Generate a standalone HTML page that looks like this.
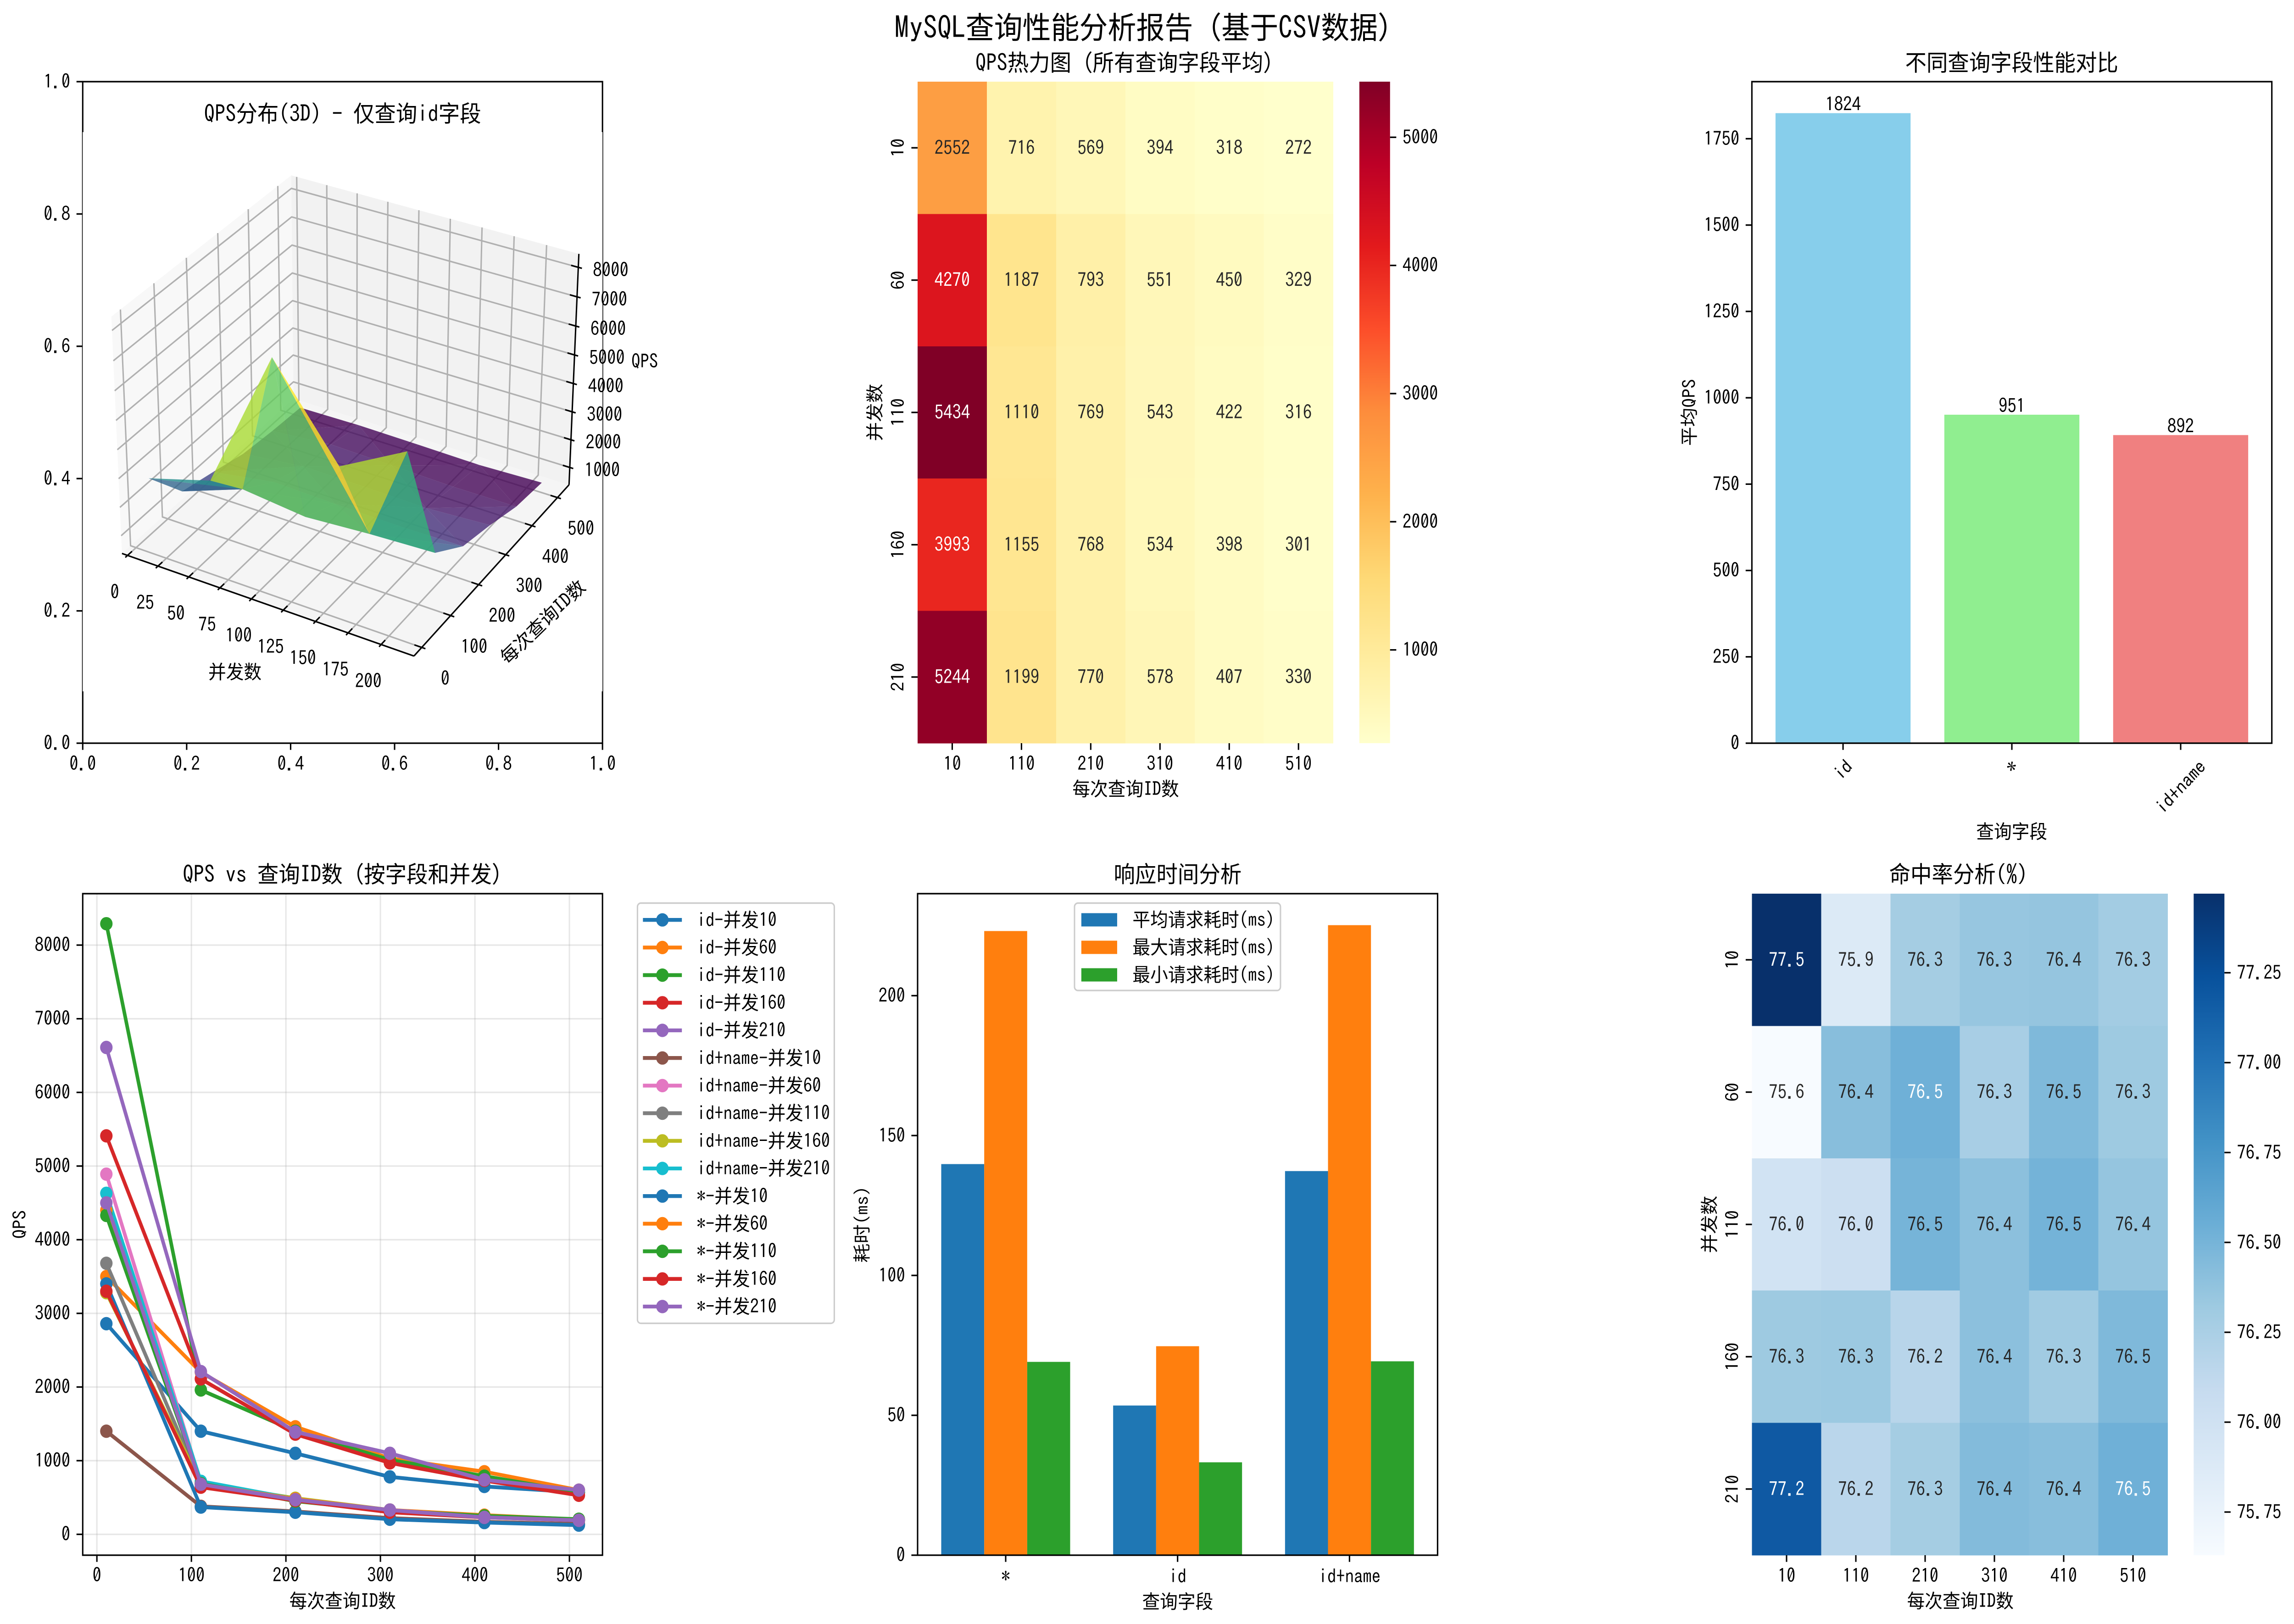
<!DOCTYPE html>
<html lang="zh">
<head>
<meta charset="utf-8">
<title>MySQL查询性能分析报告</title>
<style>
html,body{margin:0;padding:0;background:#fff;width:100%;height:100%;overflow:hidden;}
svg{display:block;width:100vw;height:100vh;}
text{font-family:"IPAGothic","Liberation Mono",monospace;fill:#000;}
.c{font-family:"WenQuanYi Zen Hei","Noto Sans CJK SC",sans-serif;}
.s10{font-size:41.67px;}
.s12{font-size:50px;}
.s16{font-size:66.67px;}
</style>
</head>
<body>
<svg id="figure" xmlns="http://www.w3.org/2000/svg" width="5380" height="3540" viewBox="0 0 5380 3540" preserveAspectRatio="none">
<rect x="0" y="0" width="5380" height="3540" fill="#ffffff"/>
<text class="s16" x="2698" y="84" text-anchor="middle">MySQL<tspan class="c">查询性能分析报告（基于</tspan>CSV<tspan class="c">数据）</tspan></text>

<g>
  <rect x="194" y="178" width="1219" height="1442" fill="none" stroke="#000" stroke-width="3.33"/>
  <g id="ax1-ticks"></g>
  <rect x="194" y="288" width="1219" height="1219" fill="#ffffff"/>
  <g id="ax1-3d"></g>
  <text class="s12" x="803.5" y="265.5" text-anchor="middle">QPS<tspan class="c">分布</tspan>(3D) - <tspan class="c">仅查询</tspan>id<tspan class="c">字段</tspan></text>
  <text class="s10" x="551" y="1479.6" text-anchor="middle"><tspan class="c">并发数</tspan></text>
  <text class="s10" x="1273" y="1370.6" text-anchor="middle" transform="rotate(-42 1273 1356)"><tspan class="c">每次查询</tspan>ID<tspan class="c">数</tspan></text>
  <text class="s10" x="1512" y="802.6" text-anchor="middle">QPS</text>
</g>

<g>
  <g id="ax2-marks"></g>
  <g id="ax2-cbar"></g>
  <text class="s12" x="2650" y="154.5" text-anchor="middle">QPS<tspan class="c">热力图（所有查询字段平均）</tspan></text>
  <text class="s10" x="2640" y="1734.6" text-anchor="middle"><tspan class="c">每次查询</tspan>ID<tspan class="c">数</tspan></text>
  <text class="s10" x="2052" y="913.6" text-anchor="middle" transform="rotate(-90 2052 899)"><tspan class="c">并发数</tspan></text>
</g>

<g>
  <g id="ax3-marks"></g>
  <rect x="4108.6" y="178" width="1219.4" height="1442" fill="none" stroke="#000" stroke-width="3.33"/>
  <text class="s12" x="4718" y="154.5" text-anchor="middle"><tspan class="c">不同查询字段性能对比</tspan></text>
  <text class="s10" x="4718" y="1827.6" text-anchor="middle"><tspan class="c">查询字段</tspan></text>
  <text class="s10" x="3962" y="913.6" text-anchor="middle" transform="rotate(-90 3962 899)"><tspan class="c">平均</tspan>QPS</text>
</g>

<g>
  <g id="ax4-marks"></g>
  <rect x="194" y="1948" width="1219" height="1442" fill="none" stroke="#000" stroke-width="3.33"/>
  <g id="ax4-legend">
    <rect x="1495" y="1968.6" width="461.6" height="916" rx="8" ry="8" fill="#fff" fill-opacity="0.8" stroke="#cccccc" stroke-width="3.33"/>
  </g>
  <text class="s12" x="816" y="1923.5" text-anchor="middle">QPS vs <tspan class="c">查询</tspan>ID<tspan class="c">数（按字段和并发）</tspan></text>
  <text class="s10" x="803.5" y="3504.6" text-anchor="middle"><tspan class="c">每次查询</tspan>ID<tspan class="c">数</tspan></text>
  <text class="s10" x="46" y="2683.6" text-anchor="middle" transform="rotate(-90 46 2669)">QPS</text>
</g>

<g>
  <g id="ax5-marks"></g>
  <rect x="2152" y="1948" width="1219.5" height="1442" fill="none" stroke="#000" stroke-width="3.33"/>
  <g id="ax5-legend">
    <rect x="2520" y="1968.6" width="483" height="190.5" rx="8" ry="8" fill="#fff" fill-opacity="0.8" stroke="#cccccc" stroke-width="3.33"/>
  </g>
  <text class="s12" x="2762" y="1923.5" text-anchor="middle"><tspan class="c">响应时间分析</tspan></text>
  <text class="s10" x="2762" y="3506" text-anchor="middle"><tspan class="c">查询字段</tspan></text>
  <text class="s10" x="2022" y="2683.6" text-anchor="middle" transform="rotate(-90 2022 2669)"><tspan class="c">耗时</tspan>(ms)</text>
</g>

<g>
  <g id="ax6-marks"></g>
  <g id="ax6-cbar"></g>
  <text class="s12" x="4593" y="1923.5" text-anchor="middle"><tspan class="c">命中率分析</tspan>(%)</text>
  <text class="s10" x="4597.5" y="3504.6" text-anchor="middle"><tspan class="c">每次查询</tspan>ID<tspan class="c">数</tspan></text>
  <text class="s10" x="4009" y="2683.6" text-anchor="middle" transform="rotate(-90 4009 2669)"><tspan class="c">并发数</tspan></text>
</g>
</svg>

<script>
/* ---------- data ---------- */
const queryIds = [10, 110, 210, 310, 410, 510];
const concurrencyLevels = [10, 60, 110, 160, 210];

const idQps10 = [2860, 1400, 1100, 780, 650, 570];
const idQps60 = [3500, 2200, 1460, 1030, 850, 600];
const idQps110 = [8290, 1960, 1400, 1010, 790, 570];
const idQps160 = [5410, 2110, 1360, 970, 730, 530];
const idQps210 = [6610, 2210, 1390, 1100, 740, 600];
const idNameQps10 = [1400, 380, 310, 220, 170, 140];
const idNameQps60 = [4890, 700, 470, 320, 240, 200];
const idNameQps110 = [3680, 680, 470, 320, 240, 190];
const idNameQps160 = [3280, 690, 490, 330, 240, 190];
const idNameQps210 = [4630, 720, 480, 330, 240, 190];
const starQps10 = [3400, 370, 300, 205, 160, 125];
const starQps60 = [4400, 680, 480, 330, 260, 200];
const starQps110 = [4330, 690, 450, 320, 250, 205];
const starQps160 = [3300, 640, 460, 300, 230, 190];
const starQps210 = [4500, 680, 470, 330, 230, 190];

const lineSeriesNames = ['id-并发10','id-并发60','id-并发110','id-并发160','id-并发210',
  'id+name-并发10','id+name-并发60','id+name-并发110','id+name-并发160','id+name-并发210',
  '*-并发10','*-并发60','*-并发110','*-并发160','*-并发210'];
const lineSeriesValues = [idQps10,idQps60,idQps110,idQps160,idQps210,
  idNameQps10,idNameQps60,idNameQps110,idNameQps160,idNameQps210,
  starQps10,starQps60,starQps110,starQps160,starQps210];
const lineXTicks = [0,100,200,300,400,500];
const lineYTicks = [0,1000,2000,3000,4000,5000,6000,7000,8000];

const surfaceQps = [idQps10,idQps60,idQps110,idQps160,idQps210];
const surfaceXTicks = [0,25,50,75,100,125,150,175,200];
const surfaceYTicks = [0,100,200,300,400,500];
const surfaceZTicks = [1000,2000,3000,4000,5000,6000,7000,8000];
const outerAxisTicks = [0,0.2,0.4,0.6,0.8,1.0];

const qpsMatrix = [
  [2552,716,569,394,318,272],
  [4270,1187,793,551,450,329],
  [5434,1110,769,543,422,316],
  [3993,1155,768,534,398,301],
  [5244,1199,770,578,407,330]];
const qpsColorbarTicks = [1000,2000,3000,4000,5000];

const barCategories = ['id','*','id+name'];
const barValues = [1824,951,892];
const barTicks = [0,250,500,750,1000,1250,1500,1750];

const rtFields = ['*','id','id+name'];
const rtSeriesNames = ['平均请求耗时(ms)','最大请求耗时(ms)','最小请求耗时(ms)'];
const rtAvg = [139.8,53.5,137.3];
const rtMax = [223.1,74.7,225.2];
const rtMin = [69.1,33.2,69.3];
const rtTicks = [0,50,100,150,200];

const hitMatrix = [
  [77.47,75.88,76.28,76.35,76.36,76.29],
  [75.63,76.42,76.53,76.26,76.46,76.32],
  [75.98,76.03,76.50,76.40,76.51,76.36],
  [76.32,76.33,76.17,76.40,76.30,76.46],
  [77.18,76.16,76.28,76.44,76.42,76.53]];
const hitColorbarTicks = [75.75,76.00,76.25,76.50,76.75,77.00,77.25];

/* ---------- helpers ---------- */
const NS = 'http://www.w3.org/2000/svg';
const tab10 = ['#1f77b4','#ff7f0e','#2ca02c','#d62728','#9467bd','#8c564b','#e377c2','#7f7f7f','#bcbd22','#17becf'];
const YLORRD = ['#ffffcc','#ffeda0','#fed976','#feb24c','#fd8d3c','#fc4e2a','#e31a1c','#bd0026','#800026'];
const BLUES = ['#f7fbff','#deebf7','#c6dbef','#9ecae1','#6baed6','#4292c6','#2171b5','#08519c','#08306b'];
const VIRIDIS = ['#440154','#482475','#414487','#355f8d','#2a788e','#21918c','#22a884','#44bf70','#7ad151','#bddf26','#fde725'];
const FS = 41.67, SW = 3.33, TL = 14.6, PAD = 14.6, LW = 8.33;

function $(id){ return document.getElementById(id); }
function mk(tag, attrs, parent){
  const e = document.createElementNS(NS, tag);
  for (const k in attrs) e.setAttribute(k, attrs[k]);
  if (parent) parent.appendChild(e);
  return e;
}
function seg(parent, x1, y1, x2, y2, color, w){
  return mk('line', {x1:x1, y1:y1, x2:x2, y2:y2, stroke:color, 'stroke-width':w}, parent);
}
function label(parent, str, x, y, opt){
  const o = opt || {};
  const size = o.size || FS;
  const a = {x:x, y:y + size*0.35, 'font-size':size, 'text-anchor':o.anchor || 'middle'};
  if (o.rot) a.transform = 'rotate(' + o.rot + ' ' + x + ' ' + y + ')';
  if (o.fill) a.style = 'fill:' + o.fill;
  const t = mk('text', a, parent);
  String(str).split(/([\u2E80-\u9FFF\uFF00-\uFFEF\u3000-\u303F]+)/).forEach(function(run){
    if (!run) return;
    if (/[\u2E80-\u9FFF\uFF00-\uFFEF\u3000-\u303F]/.test(run)) {
      const s = mk('tspan', {class:'c'}, t);
      s.textContent = run;
    } else {
      t.appendChild(document.createTextNode(run));
    }
  });
  return t;
}
function linear(d0, d1, r0, r1){ return function(v){ return r0 + (v-d0)*(r1-r0)/(d1-d0); }; }
function hex(c){ return [parseInt(c.slice(1,3),16), parseInt(c.slice(3,5),16), parseInt(c.slice(5,7),16)]; }
function cmapRgb(stops, t){
  t = Math.max(0, Math.min(1, t));
  const p = t*(stops.length-1), i = Math.min(Math.floor(p), stops.length-2), f = p-i;
  const a = hex(stops[i]), b = hex(stops[i+1]);
  return [0,1,2].map(function(k){ return a[k] + (b[k]-a[k])*f; });
}
function css(rgb){ return 'rgb(' + rgb.map(Math.round).join(',') + ')'; }
function luminance(rgb){
  const l = rgb.map(function(v){ v/=255; return v<=0.03928 ? v/12.92 : Math.pow((v+0.055)/1.055, 2.4); });
  return 0.2126*l[0] + 0.7152*l[1] + 0.0722*l[2];
}
function flat(m){ return m.reduce(function(a,b){ return a.concat(b); }, []); }

/* ---------- outer 2D axes under the 3D plot ---------- */
(function(){
  const g = $('ax1-ticks');
  const sx = linear(0,1,194,1413), sy = linear(0,1,1620,178);
  outerAxisTicks.forEach(function(v){
    const xt = seg(g, sx(v), 1620, sx(v), 1620+TL, '#000', SW);
    
    
    const xl = label(g, v.toFixed(1), sx(v), 1665);
    
    
    const yt = seg(g, 194-TL, sy(v), 194, sy(v), '#000', SW);
    
    
    const yl = label(g, v.toFixed(1), 194-TL-PAD, sy(v), {anchor:'end'});
    
    
  });
})();

/* ---------- 3D surface ---------- */
(function(){
  const g = $('ax1-3d');
  const xr0 = Math.min.apply(null, concurrencyLevels), xr1 = Math.max.apply(null, concurrencyLevels);
  const yr0 = Math.min.apply(null, queryIds), yr1 = Math.max.apply(null, queryIds);
  const zs = flat(surfaceQps);
  const zl0 = Math.min.apply(null, zs), zl1 = Math.max.apply(null, zs);
  const xl0 = xr0-0.05*(xr1-xr0), xl1 = xr1+0.05*(xr1-xr0);
  const yl0 = yr0-0.05*(yr1-yr0), yl1 = yr1+0.05*(yr1-yr0);
  const xp0 = xl0-(xl1-xl0)/48, xp1 = xl1+(xl1-xl0)/48;
  const yp0 = yl0-(yl1-yl0)/48, yp1 = yl1+(yl1-yl0)/48;
  const zp0 = zl0-(zl1-zl0)/48, zp1 = zl1+(zl1-zl0)/48;
  const k = 1.8294640721620434/Math.sqrt(41);
  const bx = 4*k, by = 4*k, bz = 3*k;
  const el = 30*Math.PI/180, az = -60*Math.PI/180;
  const n = [Math.cos(el)*Math.cos(az), Math.cos(el)*Math.sin(az), Math.sin(el)];
  const nl = Math.hypot(n[0], n[1]);
  const u = [-n[1]/nl, n[0]/nl, 0];
  const v = [n[1]*u[2]-n[2]*u[1], n[2]*u[0]-n[0]*u[2], n[0]*u[1]-n[1]*u[0]];
  const scale = 1219/0.185;
  function world(x,y,z){
    return [((x-xl0)/(xl1-xl0)-0.5)*bx, ((y-yl0)/(yl1-yl0)-0.5)*by, ((z-zl0)/(zl1-zl0)-0.5)*bz];
  }
  function depth(x,y,z){ const p = world(x,y,z); return p[0]*n[0]+p[1]*n[1]+p[2]*n[2]; }
  function proj(x,y,z){
    const p = world(x,y,z);
    const d = 10-(p[0]*n[0]+p[1]*n[1]+p[2]*n[2]);
    const a = (p[0]*u[0]+p[1]*u[1]+p[2]*u[2])/d, b = (p[0]*v[0]+p[1]*v[1]+p[2]*v[2])/d;
    return [194+(a+0.095)*scale, 1507-(b+0.095)*scale];
  }
  function pts(list){ return list.map(function(q){ const s = proj(q[0],q[1],q[2]); return s[0].toFixed(2)+','+s[1].toFixed(2); }).join(' '); }

  const paneLeft = mk('polygon', {points:pts([[xp0,yp0,zp0],[xp0,yp1,zp0],[xp0,yp1,zp1],[xp0,yp0,zp1]]), fill:'#f2f2f2', 'fill-opacity':0.5}, g);
  
  
  const paneBack = mk('polygon', {points:pts([[xp0,yp1,zp0],[xp1,yp1,zp0],[xp1,yp1,zp1],[xp0,yp1,zp1]]), fill:'#e6e6e6', 'fill-opacity':0.5}, g);
  
  
  const paneFloor = mk('polygon', {points:pts([[xp0,yp0,zp0],[xp1,yp0,zp0],[xp1,yp1,zp0],[xp0,yp1,zp0]]), fill:'#ececec', 'fill-opacity':0.5}, g);
  
  

  function gridLine(list){
    return mk('polyline', {points:pts(list), fill:'none', stroke:'#b0b0b0', 'stroke-width':SW, 'stroke-linejoin':'round'}, g);
  }
  surfaceXTicks.forEach(function(t){
    const gl = gridLine([[t,yp0,zp0],[t,yp1,zp0],[t,yp1,zp1]]);
    
    
  });
  surfaceYTicks.forEach(function(t){
    const gl = gridLine([[xp1,t,zp0],[xp0,t,zp0],[xp0,t,zp1]]);
    
    
  });
  surfaceZTicks.forEach(function(t){
    const gl = gridLine([[xp0,yp0,t],[xp0,yp1,t],[xp1,yp1,t]]);
    
    
  });

  /* triangulated surface */
  const tris = [];
  for (let i=0;i<concurrencyLevels.length-1;i++){
    for (let j=0;j<queryIds.length-1;j++){
      const A=[i,j], B=[i+1,j], C=[i,j+1], D=[i+1,j+1];
      if ((i+j)%2===0){ tris.push([A,B,D]); tris.push([A,C,D]); }
      else { tris.push([A,B,C]); tris.push([B,C,D]); }
    }
  }
  const facets = tris.map(function(t){
    const q = t.map(function(ij){ return [concurrencyLevels[ij[0]], queryIds[ij[1]], surfaceQps[ij[0]][ij[1]]]; });
    return {q:q, mean:(q[0][2]+q[1][2]+q[2][2])/3, d:(depth.apply(null,q[0])+depth.apply(null,q[1])+depth.apply(null,q[2]))/3};
  });
  const means = facets.map(function(f){ return f.mean; });
  const mMin = Math.min.apply(null, means), mMax = Math.max.apply(null, means);
  facets.sort(function(a,b){ return a.d-b.d; });
  facets.forEach(function(f){
    const tri = mk('polygon', {points:pts(f.q), fill:css(cmapRgb(VIRIDIS,(f.mean-mMin)/(mMax-mMin))), 'fill-opacity':0.8}, g);
    
    
  });

  /* axis lines */
  function axisLine(a,b){
    const p = proj(a[0],a[1],a[2]), q = proj(b[0],b[1],b[2]);
    return seg(g, p[0],p[1],q[0],q[1], '#000', SW);
  }
  const xAxis = axisLine([xp0,yp0,zp0],[xp1,yp0,zp0]);
  
  
  const yAxis = axisLine([xp1,yp0,zp0],[xp1,yp1,zp0]);
  
  
  const zAxis = axisLine([xp1,yp1,zp0],[xp1,yp1,zp1]);
  
  

  const yw = yl1-yl0, xw = xl1-xl0;
  surfaceXTicks.forEach(function(t){
    const mark = axisLine([t,yp0-yw/80,zp0],[t,yp0+yw/40,zp0]);
    
    
    const p = proj(t,yp0,zp0);
    const lab = label(g, t, p[0]-30, p[1]+80);
    
    
  });
  surfaceYTicks.forEach(function(t){
    const mark = axisLine([xp1+xw/80,t,zp0],[xp1-xw/40,t,zp0]);
    
    
    const p = proj(xp1,t,zp0);
    const lab = label(g, t, p[0]+55, p[1]+68);
    
    
  });
  surfaceZTicks.forEach(function(t){
    const mark = axisLine([xp1+xw/80,yp1,t],[xp1-xw/40,yp1,t]);
    
    
    const p = proj(xp1,yp1,t);
    const lab = label(g, t, p[0]+76, p[1]+6);
    
    
  });
})();

/* ---------- heatmaps ---------- */
function drawHeatmap(g, cbarG, prefix, matrix, stops, fmt, left, right, top, bottom, cbLeft, cbRight, cbTicks, cbFmt){
  const vals = flat(matrix);
  const vmin = Math.min.apply(null, vals), vmax = Math.max.apply(null, vals);
  const cw = (right-left)/queryIds.length, ch = (bottom-top)/concurrencyLevels.length;
  const sx = linear(0, queryIds.length, left, right), sy = linear(0, concurrencyLevels.length, top, bottom);
  matrix.forEach(function(row, r){
    row.forEach(function(v, c){
      const rgb = cmapRgb(stops, (v-vmin)/(vmax-vmin));
      const cell = mk('rect', {x:sx(c), y:sy(r), width:cw+0.5, height:ch+0.5, fill:css(rgb), 'shape-rendering':'crispEdges'}, g);
      
      
    });
  });
  matrix.forEach(function(row, r){
    row.forEach(function(v, c){
      const rgb = cmapRgb(stops, (v-vmin)/(vmax-vmin));
      const t = label(g, fmt(v), sx(c+0.5), sy(r+0.5), {fill: luminance(rgb) > 0.408 ? '#262626' : '#ffffff'});
      
      
    });
  });
  queryIds.forEach(function(q, c){
    const tk = seg(g, sx(c+0.5), bottom, sx(c+0.5), bottom+TL, '#000', SW);
    
    
    const lb = label(g, q, sx(c+0.5), bottom+45);
    
    
  });
  concurrencyLevels.forEach(function(q, r){
    const tk = seg(g, left-TL, sy(r+0.5), left, sy(r+0.5), '#000', SW);
    
    
    const lb = label(g, q, left-46, sy(r+0.5), {rot:-90});
    
    
  });
  /* colorbar */
  const gradId = prefix + '-gradient';
  const defs = mk('defs', {}, cbarG);
  const grad = mk('linearGradient', {id:gradId, x1:0, y1:1, x2:0, y2:0}, defs);
  stops.forEach(function(s, i){ mk('stop', {offset:i/(stops.length-1), 'stop-color':s}, grad); });
  const bar = mk('rect', {x:cbLeft, y:top, width:cbRight-cbLeft, height:bottom-top, fill:'url(#'+gradId+')'}, cbarG);
  
  
  const cy = linear(vmin, vmax, bottom, top);
  cbTicks.forEach(function(t){
    const tk = seg(cbarG, cbRight, cy(t), cbRight+TL, cy(t), '#000', SW);
    
    
    const lb = label(cbarG, cbFmt(t), cbRight+TL+PAD, cy(t), {anchor:'start'});
    
    
  });
}
drawHeatmap($('ax2-marks'), $('ax2-cbar'), 'qps-heatmap', qpsMatrix, YLORRD,
  function(v){ return String(Math.round(v)); }, 2152, 3126.5, 178, 1620, 3188, 3260, qpsColorbarTicks,
  function(t){ return String(t); });
drawHeatmap($('ax6-marks'), $('ax6-cbar'), 'hit-rate', hitMatrix, BLUES,
  function(v){ return v.toFixed(1); }, 4108.7, 5083.6, 1948, 3390, 5144.7, 5216.8, hitColorbarTicks,
  function(t){ return t.toFixed(2); });

/* ---------- field comparison bars ---------- */
(function(){
  const g = $('ax3-marks');
  const L = 4108.6, R = 5328, T = 178, B = 1620;
  const n = barCategories.length;
  const sx = linear(-0.4-0.05*(n-1+0.8), n-1+0.4+0.05*(n-1+0.8), L, R);
  const sy = linear(0, Math.max.apply(null, barValues)*1.05, B, T);
  const colors = ['#87ceeb','#90ee90','#f08080'];
  barCategories.forEach(function(cat, i){
    const bar = mk('rect', {x:sx(i-0.4), y:sy(barValues[i]), width:sx(i+0.4)-sx(i-0.4), height:B-sy(barValues[i]), fill:colors[i]}, g);
    
    
    const val = label(g, String(barValues[i]), sx(i), sy(barValues[i])-19);
    
    
    const tk = seg(g, sx(i), B, sx(i), B+TL, '#000', SW);
    
    
    const cy = B+29+(cat.length*FS*0.5*Math.SQRT1_2 + FS*Math.SQRT1_2)/2;
    const lb = label(g, cat, sx(i), cy, {rot:-45});
    
    
  });
  barTicks.forEach(function(t){
    const tk = seg(g, L-TL, sy(t), L, sy(t), '#000', SW);
    
    
    const lb = label(g, t, L-TL-PAD, sy(t), {anchor:'end'});
    
    
  });
})();

/* ---------- QPS line chart ---------- */
(function(){
  const g = $('ax4-marks'), lg = $('ax4-legend');
  const L = 194, R = 1413, T = 1948, B = 3390;
  const xMin = Math.min.apply(null, queryIds), xMax = Math.max.apply(null, queryIds);
  const all = flat(lineSeriesValues);
  const yMin = Math.min.apply(null, all), yMax = Math.max.apply(null, all);
  const sx = linear(xMin-0.05*(xMax-xMin), xMax+0.05*(xMax-xMin), L, R);
  const sy = linear(yMin-0.05*(yMax-yMin), yMax+0.05*(yMax-yMin), B, T);
  lineXTicks.forEach(function(t){
    const gl = seg(g, sx(t), T, sx(t), B, '#b0b0b0', SW);
    gl.setAttribute('stroke-opacity', '0.3');
    
    
    const tk = seg(g, sx(t), B, sx(t), B+TL, '#000', SW);
    
    
    const lb = label(g, t, sx(t), 3434);
    
    
  });
  lineYTicks.forEach(function(t){
    const gl = seg(g, L, sy(t), R, sy(t), '#b0b0b0', SW);
    gl.setAttribute('stroke-opacity', '0.3');
    
    
    const tk = seg(g, L-TL, sy(t), L, sy(t), '#000', SW);
    
    
    const lb = label(g, t, L-TL-PAD, sy(t), {anchor:'end'});
    
    
  });
  lineSeriesValues.forEach(function(vals, s){
    const color = tab10[s % 10];
    const path = mk('polyline', {
      points: vals.map(function(v,i){ return sx(queryIds[i]).toFixed(2)+','+sy(v).toFixed(2); }).join(' '),
      fill:'none', stroke:color, 'stroke-width':LW, 'stroke-linejoin':'round', 'stroke-linecap':'square'
    }, g);
    
    
    vals.forEach(function(v,i){
      const dot = mk('circle', {cx:sx(queryIds[i]), cy:sy(v), r:14.6, fill:color}, g);
      
      
    });
    const rowY = 2005.2 + s*60.2;
    const lh = seg(lg, 1512, rowY, 1595, rowY, color, LW);
    lh.setAttribute('stroke-linecap', 'square');
    
    
    const lm = mk('circle', {cx:1553.5, cy:rowY, r:14.6, fill:color}, lg);
    
    
    const lt = label(lg, lineSeriesNames[s], 1634, rowY, {anchor:'start'});
    
    
  });
})();

/* ---------- response time grouped bars ---------- */
(function(){
  const g = $('ax5-marks'), lg = $('ax5-legend');
  const L = 2152, R = 3371.5, T = 1948, B = 3390;
  const groups = [rtAvg, rtMax, rtMin];
  const colors = ['#1f77b4','#ff7f0e','#2ca02c'];
  const w = 0.25, n = rtFields.length;
  const span = (n-1) + 3*w;
  const sx = linear(-1.5*w-0.05*span, n-1+1.5*w+0.05*span, L, R);
  const sy = linear(0, Math.max.apply(null, flat(groups))*1.05, B, T);
  groups.forEach(function(vals, s){
    vals.forEach(function(v, i){
      const x0 = sx(i+(s-1)*w-w/2), x1 = sx(i+(s-1)*w+w/2);
      const bar = mk('rect', {x:x0, y:sy(v), width:x1-x0, height:B-sy(v), fill:colors[s]}, g);
      
      
    });
    const rowY = 2005 + s*60;
    const sw = mk('rect', {x:2536, y:rowY-14.5, width:84, height:29, fill:colors[s]}, lg);
    
    
    const lt = label(lg, rtSeriesNames[s], 2656, rowY, {anchor:'start'});
    
    
  });
  rtFields.forEach(function(f, i){
    const tk = seg(g, sx(i), B, sx(i), B+TL, '#000', SW);
    
    
    const lb = label(g, f, sx(i), 3436);
    
    
  });
  rtTicks.forEach(function(t){
    const tk = seg(g, L-TL, sy(t), L, sy(t), '#000', SW);
    
    
    const lb = label(g, t, L-TL-PAD, sy(t), {anchor:'end'});
    
    
  });
})();
</script>
</body>
</html>
